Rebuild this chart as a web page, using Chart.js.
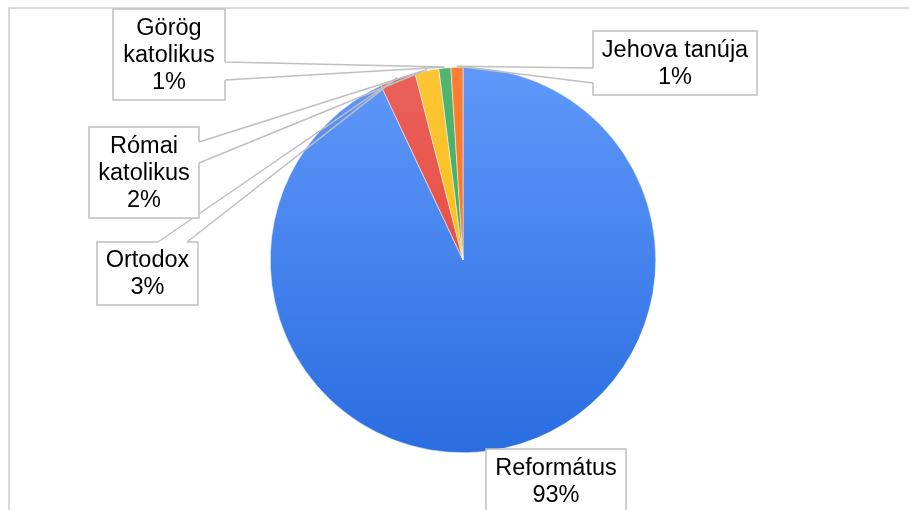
<!DOCTYPE html>
<html>
<head>
<meta charset="utf-8">
<script src="https://cdn.jsdelivr.net/npm/chart.js@4"></script>
<style>
  html, body { margin: 0; padding: 0; background: #fff; }
  #wrap { width: 909px; height: 510px; position: relative; }
</style>
</head>
<body>
<div id="wrap"><canvas id="piechart"></canvas></div>
<script>
// data
var categories = ['Református', 'Ortodox', ['Római', 'katolikus'], ['Görög', 'katolikus'], 'Jehova tanúja'];
var values = [93, 3, 2, 1, 1];
// light (top) / dark (bottom) shade of each slice
var topColors = ['#5f98fa', '#e9625b', '#fbc534', '#52b471', '#ff7d36'];
var bottomColors = ['#2a6de0', '#ea3b2c', '#fbbc04', '#34a853', '#ff6d01'];

// callout boxes: x, y, w, h, side of the pointer and where it leaves the side
var callouts = [
    { x: 486, y: 449, w: 140, h: 70, side: 'top', a: 492, b: 520 },
    { x: 97, y: 242, w: 101, h: 63, side: 'top', a: 158, b: 187 },
    { x: 89, y: 127, w: 110, h: 91, side: 'right', a: 142, b: 163 },
    { x: 113, y: 9, w: 112, h: 91, side: 'right', a: 62, b: 80 },
    { x: 593, y: 31, w: 164, h: 64, side: 'left', a: 68, b: 83 }
];

var total = values.reduce(function(s, v) { return s + v; }, 0);

function sliceFill(context) {
    var chart = context.chart;
    var area = chart.chartArea;
    if (!area) return topColors[context.dataIndex];
    var g = chart.ctx.createLinearGradient(0, area.top, 0, area.bottom);
    g.addColorStop(0, topColors[context.dataIndex]);
    g.addColorStop(1, bottomColors[context.dataIndex]);
    return g;
}

var frame = {
    id: 'frame',
    beforeDraw: function(chart) {
        var ctx = chart.ctx;
        ctx.save();
        ctx.strokeStyle = '#d9d9d9';
        ctx.lineWidth = 2;
        ctx.beginPath();
        ctx.moveTo(9, 520);
        ctx.lineTo(9, 8);
        ctx.lineTo(920, 8);
        ctx.stroke();
        ctx.restore();
    }
};

var calloutLabels = {
    id: 'calloutLabels',
    afterDatasetsDraw: function(chart) {
        var ctx = chart.ctx;
        var arcs = chart.getDatasetMeta(0).data;
        ctx.save();
        arcs.forEach(function(arc, i) {
            var c = callouts[i];
            var p = arc.getProps(['x', 'y', 'startAngle', 'endAngle', 'outerRadius'], true);
            var mid = (p.startAngle + p.endAngle) / 2;
            var tx = p.x + Math.cos(mid) * (p.outerRadius + 1);
            var ty = p.y + Math.sin(mid) * (p.outerRadius + 1);

            // box
            ctx.fillStyle = '#fff';
            ctx.fillRect(c.x, c.y, c.w, c.h);
            ctx.strokeStyle = '#bfbfbf';
            ctx.lineWidth = 1.5;
            ctx.beginPath();
            if (c.side === 'right') {
                var rx = c.x + c.w;
                ctx.moveTo(rx, c.a);
                ctx.lineTo(rx, c.y);
                ctx.lineTo(c.x, c.y);
                ctx.lineTo(c.x, c.y + c.h);
                ctx.lineTo(rx, c.y + c.h);
                ctx.lineTo(rx, c.b);
                ctx.moveTo(rx, c.a);
                ctx.lineTo(tx, ty);
                ctx.lineTo(rx, c.b);
            } else if (c.side === 'left') {
                ctx.moveTo(c.x, c.a);
                ctx.lineTo(c.x, c.y);
                ctx.lineTo(c.x + c.w, c.y);
                ctx.lineTo(c.x + c.w, c.y + c.h);
                ctx.lineTo(c.x, c.y + c.h);
                ctx.lineTo(c.x, c.b);
                ctx.moveTo(c.x, c.a);
                ctx.lineTo(tx, ty);
                ctx.lineTo(c.x, c.b);
            } else {
                ctx.moveTo(c.a, c.y);
                ctx.lineTo(c.x, c.y);
                ctx.lineTo(c.x, c.y + c.h);
                ctx.lineTo(c.x + c.w, c.y + c.h);
                ctx.lineTo(c.x + c.w, c.y);
                ctx.lineTo(c.b, c.y);
                ctx.moveTo(c.a, c.y);
                ctx.lineTo(tx, ty);
                ctx.lineTo(c.b, c.y);
            }
            ctx.stroke();

            // text
            var name = categories[i];
            var lines = Array.isArray(name) ? name.slice() : [name];
            lines.push(Math.round(values[i] / total * 100) + '%');
            ctx.fillStyle = '#000';
            ctx.font = '23.5px "Liberation Sans", Arial, sans-serif';
            ctx.textAlign = 'center';
            ctx.textBaseline = 'middle';
            var lh = 27;
            var cy = c.y + Math.min(c.h, 91) / 2 - (lines.length - 1) * lh / 2 + 1;
            if (c.side === 'top' && c.h > 64) cy = c.y + 32 - (lines.length - 1) * lh / 2 + 1;
            lines.forEach(function(t, k) {
                ctx.fillText(t, c.x + c.w / 2, cy + k * lh);
            });
        });
        ctx.restore();
    }
};

var ctx = document.getElementById('piechart').getContext('2d');
var myPieChart = new Chart(ctx, {
    type: 'pie',
    data: {
        labels: categories,
        datasets: [{
            data: values,
            backgroundColor: sliceFill,
            borderColor: '#ffffff',
            borderWidth: 0.5,
            hoverBorderWidth: 0.5
        }]
    },
    options: {
        responsive: true,
        maintainAspectRatio: false,
        animation: false,
        layout: { padding: { top: 67, bottom: 57, left: 100, right: 83 } },
        plugins: {
            legend: { display: false },
            tooltip: { enabled: false }
        }
    },
    plugins: [frame, calloutLabels]
});
</script>
</body>
</html>
